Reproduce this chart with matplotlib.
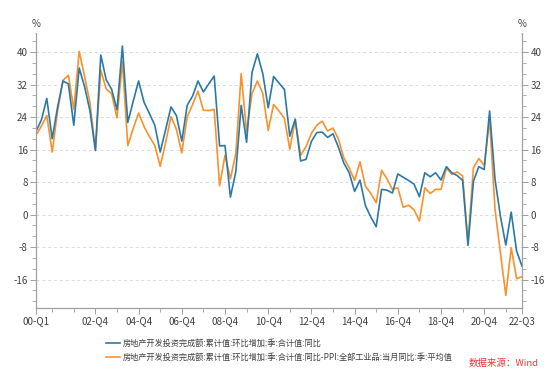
import numpy as np
import matplotlib
matplotlib.use("Agg")
import matplotlib.pyplot as plt
from matplotlib.ticker import MultipleLocator, FixedLocator

plt.rcParams['font.family'] = ['Noto Sans CJK SC', 'DejaVu Sans']
plt.rcParams['axes.unicode_minus'] = False

# 2000-Q1 ... 2022-Q3, quarterly
quarters = [f"{y % 100:02d}-Q{q}" for y in range(2000, 2023) for q in range(1, 5)][:91]

invest_yoy = [
    20.5, 23.3, 28.6, 18.7, 26.5, 32.9, 32.2, 22.0, 36.1, 31.5,
    25.5, 15.8, 39.3, 33.2, 30.9, 25.8, 41.5, 22.7, 27.9, 32.9,
    27.7, 24.9, 22.0, 15.4, 20.9, 26.5, 24.4, 18.1, 26.9, 29.2,
    32.9, 30.2, 32.2, 34.1, 16.9, 17.0, 4.3, 10.5, 26.9, 17.8,
    35.0, 39.6, 34.7, 26.3, 34.0, 32.4, 30.8, 19.3, 23.5, 13.2,
    13.6, 18.0, 20.2, 20.3, 19.0, 19.9, 16.6, 12.7, 10.3, 5.7,
    8.5, 2.2, -0.6, -3.0, 6.2, 6.0, 5.3, 10.0, 9.2, 8.4,
    7.5, 4.4, 10.3, 9.3, 10.3, 8.5, 11.8, 10.3, 9.6, 8.4,
    -7.6, 8.2, 11.8, 11.1, 25.5, 8.7, -0.4, -7.5, 0.6, -9.0,
    -12.7,
]

invest_minus_ppi = [
    19.5, 21.8, 24.4, 15.4, 25.5, 33.1, 34.3, 25.9, 40.2, 34.0,
    27.5, 15.8, 35.6, 30.9, 29.8, 23.8, 37.7, 17.0, 21.2, 25.0,
    21.7, 19.2, 17.0, 11.9, 17.7, 24.1, 21.0, 15.2, 24.1, 27.1,
    30.4, 25.7, 25.6, 25.9, 7.1, 14.6, 8.8, 15.0, 34.7, 20.3,
    29.8, 32.9, 29.8, 20.7, 27.1, 25.5, 23.7, 16.1, 23.4, 14.6,
    16.7, 20.0, 22.0, 23.0, 20.6, 21.3, 18.6, 14.0, 11.5, 8.4,
    13.0, 7.0, 5.2, 2.9, 10.9, 8.8, 6.2, 6.6, 1.8, 2.3,
    1.2, -1.6, 6.6, 5.2, 6.2, 6.2, 11.5, 9.9, 10.5, 9.5,
    -6.8, 11.5, 13.8, 12.1, 23.4, 1.3, -9.4, -19.9, -8.2, -15.8,
    -15.3,
]

label_blue = "房地产开发投资完成额:累计值:环比增加:季:合计值:同比"
label_orange = "房地产开发投资完成额:累计值:环比增加:季:合计值:同比-PPI:全部工业品:当月同比:季:平均值"

tick_labels = ["00-Q1", "02-Q4", "04-Q4", "06-Q4", "08-Q4", "10-Q4", "12-Q4",
               "14-Q4", "16-Q4", "18-Q4", "20-Q4", "22-Q3"]
yticks = [-16, -8, 0, 8, 16, 24, 32, 40]

blue = '#2b79a8'
orange = '#f7922e'
axis_col = '#a0a0a0'
text_col = '#404040'

x = np.arange(len(quarters))

fig = plt.figure(figsize=(5.58, 3.76), dpi=100)
ax = fig.add_axes([0.0645, 0.181, 0.871, 0.731])

l1, = ax.plot(x, invest_yoy, color=blue, lw=1.2, label=label_blue, zorder=3)
l2, = ax.plot(x, invest_minus_ppi, color=orange, lw=1.2, label=label_orange, zorder=2)

ax.set_xlim(0, len(quarters) - 1)
ax.set_ylim(-23, 44.7)
ax.set_yticks(yticks)
ax.yaxis.set_minor_locator(MultipleLocator(8 / 3))
ax.grid(axis='y', color='#d9d9d9', ls=(0, (3, 3)), lw=0.7)
ax.set_axisbelow(True)

# x ticks: one per year, labels every two years
tick_pos = [quarters.index(t) for t in tick_labels]
ax.set_xticks(tick_pos)
ax.set_xticklabels(tick_labels)
ax.xaxis.set_minor_locator(FixedLocator(list(range(3, len(quarters), 4))))

ax2 = ax.twinx()
ax2.set_ylim(ax.get_ylim())
ax2.set_yticks(yticks)
ax2.yaxis.set_minor_locator(MultipleLocator(8 / 3))

for a in (ax, ax2):
    a.spines['top'].set_visible(False)
    for s in ('left', 'right', 'bottom'):
        a.spines[s].set_color(axis_col)
        a.spines[s].set_linewidth(0.8)
    a.tick_params(axis='both', which='major', length=4, width=0.7, color=axis_col,
                  labelsize=7, labelcolor=text_col, pad=2)
    a.tick_params(axis='both', which='minor', length=3, width=0.6, color=axis_col)
ax.tick_params(axis='x', which='minor', length=3)

fig.text(0.064, 0.928, "%", fontsize=7, color=text_col, ha='center')
fig.text(0.936, 0.928, "%", fontsize=7, color=text_col, ha='center')

fig.legend(handles=[l1, l2], loc='upper left', bbox_to_anchor=(0.184, 0.108),
           frameon=False, fontsize=5.9, handlelength=1.75, handletextpad=0.35,
           labelspacing=0.6, labelcolor=text_col, borderaxespad=0)

fig.text(0.966, 0.022, "数据来源：Wind", fontsize=6.8, color='#e8383d', ha='right', va='bottom')

fig.savefig("out.png", dpi=100)
